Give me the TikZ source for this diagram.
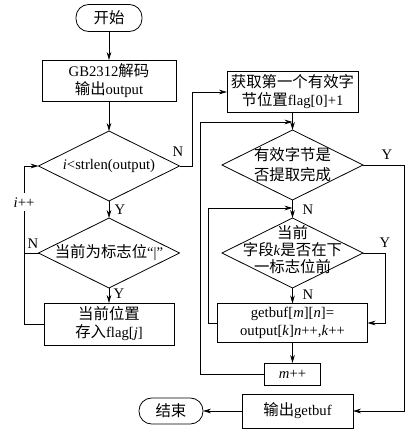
\documentclass[tikz,border=0pt]{standalone}
\usepackage{fontspec}
\setmainfont{Liberation Serif}
\newfontfamily\cjk[Scale=1.05]{Noto Sans CJK SC}
\usetikzlibrary{arrows.meta,shapes.geometric}
\tikzset{
  flow/.style={-{Stealth[length=6pt,width=3.5pt]},line width=0.6pt},
  link/.style={line width=0.6pt},
  box/.style={draw,line width=0.6pt,align=center,inner sep=0pt,outer sep=0pt},
  term/.style={box,rounded corners=9.5pt},
  decision/.style={draw,diamond,line width=0.6pt,inner sep=0pt,outer sep=0pt,
    minimum width=105.75pt,minimum height=52.5pt},
  yn/.style={inner sep=1pt}
}

\begin{document}
\begin{tikzpicture}[x=0.75pt,y=-0.75pt,
  every node/.style={font=\fontsize{11}{13.5}\selectfont}]
\useasboundingbox (0,0) rectangle (419,433);
% left column
\node[term,minimum width=49.5pt,minimum height=20.25pt] (start) at (109,18) {\cjk 开始};
\node[box,minimum width=100.5pt,minimum height=30.75pt] (gb) at (109,80.5)
  {GB2312{\cjk 解码}\\{\cjk 输出}output};
\node[decision] (d1) at (109,166) {};
\node[align=center] (d1t) at (d1) {\textit{i}<strlen(output)};
\node[decision] (d2) at (109,253) {};
\node[align=center] (d2t) at (d2) {{\cjk 当前为标志位}“|”};
\node[box,minimum width=97.5pt,minimum height=31.5pt] (store) at (109,324)
  {{\cjk 当前位置}\\{\cjk 存入}flag[\textit{j}]};
\node[term,minimum width=48pt,minimum height=19.5pt] (stop) at (171,411) {\cjk 结束};
% right column
\node[box,minimum width=98.25pt,minimum height=30.75pt] (get) at (292.5,92)
  {{\cjk 获取第一个有效字}\\{\cjk 节位置}flag[0]+1};
\node[decision] (d3) at (292.5,165) {};
\node[align=center,font=\fontsize{11}{15}\selectfont] (d3t) at (d3)
  {{\cjk 有效字节是}\\{\cjk 否提取完成}};
\node[decision] (d4) at (292.5,253) {};
\node[align=center,font=\fontsize{11}{12.75}\selectfont] (d4t) at (292.5,250)
  {{\cjk 当前}\\{\cjk 字段}\textit{k}{\cjk 是否在下}\\{\cjk 一标志位前}};
\node[box,minimum width=112.5pt,minimum height=29.25pt] (buf) at (292.5,323)
  {getbuf[\textit{m}][\textit{n}]=\\output[\textit{k}]\textit{n}++,\textit{k}++};
\node[box,minimum width=42pt,minimum height=16.5pt] (mpp) at (292.5,374) {\textit{m}++};
\node[box,minimum width=83.25pt,minimum height=25.5pt] (out) at (297.5,411)
  {{\cjk 输出}getbuf};
% bends
\coordinate (iloop) at (24,0);
\coordinate (nbend) at (192,0);
\coordinate (oloop) at (200,0);
\coordinate (inloop) at (208,0);
\coordinate (ybuf) at (385,0);
\coordinate (yout) at (404,0);
\coordinate (oin) at (292.5,122);
\coordinate (iin) at (292.5,208);
% connectors
\draw[flow] (start) -- (gb);
\draw[flow] (gb) -- (d1);
\draw[flow] (d1) -- (d2);
\draw[flow] (d2) -- (store);
\draw[flow] (store.west) -- (store.west -| iloop) -- (d1.west -| iloop)
  node[pos=0.77,fill=white,inner xsep=1pt,inner ysep=3pt] (inc) {\textit{i}++}
  -- (d1.west);
\draw[link] (d2.west) -- (d2.west -| iloop);
\draw[flow] (d1.east) -- (d1.east -| nbend) -- (get.west -| nbend) -- (get.west);
\draw[flow] (get) -- (d3);
\draw[flow] (mpp.west) -- (mpp.west -| oloop) -- (oin -| oloop) -- (oin);
\draw[flow] (d3) -- (d4);
\draw[flow] (buf.west) -- (buf.west -| inloop) -- (iin -| inloop) -- (iin);
\draw[flow] (d3.east) -- (d3.east -| yout) -- (out.east -| yout) -- (out.east);
\draw[flow] (d4.east) -- (d4.east -| ybuf) -- (buf.east -| ybuf) -- (buf.east);
\draw[flow] (d4) -- (buf);
\draw[flow] (buf) -- (mpp);
\draw[flow] (out) -- (stop);
% Y/N labels
\node[yn] (y1) at (120,210) {Y};
\node[yn] (n1) at (178,152) {N};
\node[yn] (y2) at (119,294) {Y};
\node[yn] (n2) at (33,244) {N};
\node[yn] (y3) at (387,155) {Y};
\node[yn] (n3) at (308,210) {N};
\node[yn] (y4) at (385,243) {Y};
\node[yn] (n4) at (308,295) {N};
\end{tikzpicture}
\end{document}
